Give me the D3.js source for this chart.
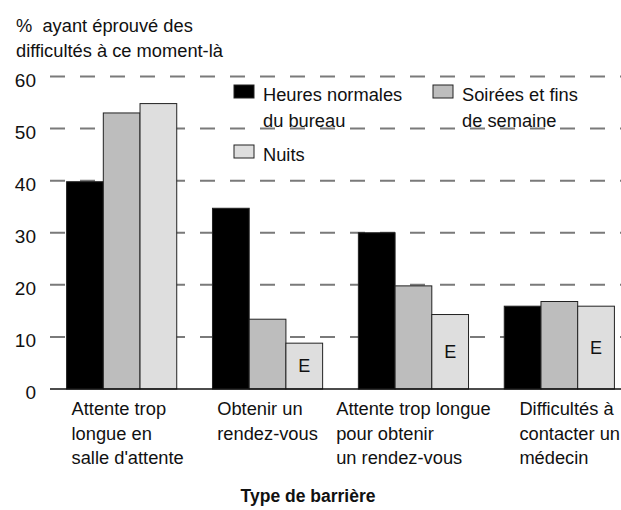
<!DOCTYPE html>
<html>
<head>
<meta charset="utf-8">
<script src="https://cdn.jsdelivr.net/npm/d3@7"></script>
<style>
  body { margin: 0; background: #fff; }
  svg text { font-family: "Liberation Sans", Arial, sans-serif; fill: #111; white-space: pre; }
</style>
</head>
<body>
<svg id="chart" width="621" height="510"></svg>
<script>
// data
var categories = [
  ["Attente trop", "longue en", "salle d'attente"],
  ["Obtenir un", "rendez-vous"],
  ["Attente trop longue", "pour obtenir", "un rendez-vous"],
  ["Difficultés à", "contacter un", "médecin"]
];
var seriesNames = ["Heures normales|du bureau", "Soirées et fins|de semaine", "Nuits"];
var heuresNormales = [39.8, 34.7, 30.0, 15.9];
var soireesFins    = [53.0, 13.4, 19.8, 16.8];
var nuits          = [54.8, 8.8, 14.3, 15.9];
var nuitsFlags     = ["", "E", "E", "E"];
var yTicks = [0, 10, 20, 30, 40, 50, 60];
var colors = ["#000000", "#bdbdbd", "#dedede"];

var svg = d3.select("#chart");

var x0 = d3.scaleBand()
    .domain(d3.range(categories.length))
    .range([52, 629])
    .paddingInner(0.245)
    .paddingOuter(0.1);

var x1 = d3.scaleBand()
    .domain(d3.range(seriesNames.length))
    .range([0, x0.bandwidth()]);

var y = d3.scaleLinear().domain([0, 60]).range([389, 76.5]);

// dashed gridlines
svg.append("g").selectAll("line")
    .data(yTicks.filter(function(d) { return d > 0; }))
  .enter().append("line")
    .attr("x1", 50).attr("x2", 621)
    .attr("y1", function(d) { return y(d); })
    .attr("y2", function(d) { return y(d); })
    .attr("stroke", "#7a7a7a")
    .attr("stroke-width", 2)
    .attr("stroke-dasharray", "15,15");

// y tick labels
svg.append("g").selectAll("text")
    .data(yTicks)
  .enter().append("text")
    .attr("x", 36)
    .attr("y", function(d) { return y(d); })
    .attr("dy", "0.55em")
    .attr("text-anchor", "end")
    .style("font-size", "19px")
    .text(function(d) { return d; });

// bars
var rows = categories.map(function(c, i) {
  return [heuresNormales[i], soireesFins[i], nuits[i]];
});

var groups = svg.append("g").selectAll(".grp")
    .data(rows)
  .enter().append("g")
    .attr("class", "grp")
    .attr("transform", function(d, i) { return "translate(" + x0(i) + ",0)"; });

groups.selectAll("rect")
    .data(function(d) { return d; })
  .enter().append("rect")
    .attr("x", function(d, j) { return x1(j); })
    .attr("y", function(d) { return y(d); })
    .attr("width", x1.bandwidth())
    .attr("height", function(d) { return y(0) - y(d); })
    .attr("fill", function(d, j) { return colors[j]; })
    .attr("stroke", "#222")
    .attr("stroke-width", 1);

// "E" flags on the Nuits bars
groups.append("text")
    .attr("x", x1(2) + x1.bandwidth() / 2)
    .attr("y", function(d, i) { return (y(nuits[i]) + y(0)) / 2; })
    .attr("dy", "0.35em")
    .attr("text-anchor", "middle")
    .style("font-size", "18px")
    .text(function(d, i) { return nuitsFlags[i]; });

// baseline
svg.append("line")
    .attr("x1", 50).attr("x2", 621)
    .attr("y1", y(0)).attr("y2", y(0))
    .attr("stroke", "#111")
    .attr("stroke-width", 1.5);

// category labels: left-aligned block centred on the group
var cat = svg.append("g").selectAll(".cat")
    .data(categories)
  .enter().append("text")
    .attr("class", "cat")
    .style("font-size", "18.3px");

cat.each(function(lines, i) {
  var t = d3.select(this);
  lines.forEach(function(l, k) {
    t.append("tspan").attr("y", 415 + k * 24.5).text(l);
  });
  var w = d3.max(t.selectAll("tspan").nodes(), function(n) { return n.getComputedTextLength(); });
  var cx = x0(i) + x0.bandwidth() / 2 + (i === 0 ? 6 : 0);
  var left = cx - w / 2;
  if (i === 3) left = 621 - w - 1;
  t.selectAll("tspan").attr("x", left);
});

// axis titles
svg.append("text")
    .attr("x", 16).attr("y", 32)
    .style("font-size", "18.3px")
    .text("%  ayant éprouvé des");
svg.append("text")
    .attr("x", 16).attr("y", 57)
    .style("font-size", "18.3px")
    .text("difficultés à ce moment-là");

svg.append("text")
    .attr("x", 308).attr("y", 502)
    .attr("text-anchor", "middle")
    .style("font-size", "17.5px")
    .style("font-weight", "bold")
    .text("Type de barrière");

// legend
var legendPos = [[234, 85], [433, 85], [234, 145]];
var legend = svg.append("g").selectAll(".leg")
    .data(seriesNames)
  .enter().append("g")
    .attr("class", "leg")
    .attr("transform", function(d, i) { return "translate(" + legendPos[i][0] + "," + legendPos[i][1] + ")"; });

legend.append("rect")
    .attr("width", 20).attr("height", 13)
    .attr("fill", function(d, i) { return colors[i]; })
    .attr("stroke", "#222");

legend.append("text")
    .style("font-size", "18.3px")
    .each(function(d) {
      var t = d3.select(this);
      d.split("|").forEach(function(l, k) {
        t.append("tspan").attr("x", 29).attr("y", 16 + k * 26).text(l);
      });
    });
</script>
</body>
</html>
